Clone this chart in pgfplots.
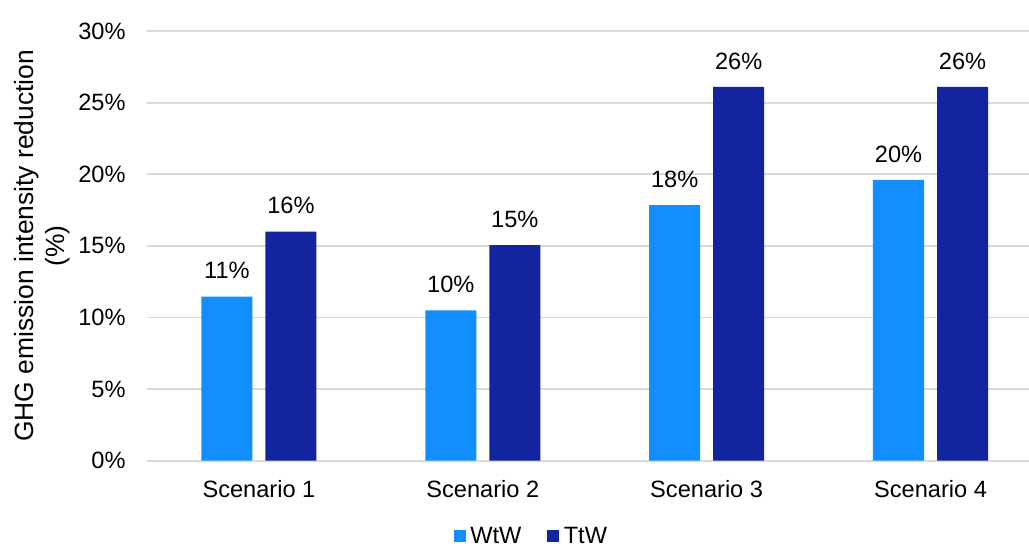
\documentclass[border=0pt]{standalone}
\usepackage{fontspec}
\setmainfont{Liberation Sans}
\usepackage{pgfplots}
\usepackage{pgfplotstable}
\pgfplotsset{compat=1.18}
\definecolor{wtw}{HTML}{138EFF}
\definecolor{ttw}{HTML}{12259F}
\definecolor{gridc}{HTML}{D9D9D9}

\pgfplotstableread{
x wtw wtwlab ttw ttwlab
0 11.45 11 16.0 16
1 10.5 10 15.05 15
2 17.85 18 26.1 26
3 19.6 20 26.1 26
}\data

\newcommand{\tfont}{\fontsize{11.8}{14}\selectfont}

\begin{document}
\begin{tikzpicture}
\begin{axis}[
  name=ax,
  scale only axis,
  width=441pt, height=214.85pt,
  xmin=-0.5, xmax=3.44,
  ymin=0, ymax=30,
  ybar,
  bar width=0.228,
  axis line style={draw=none},
  tick style={draw=none},
  major tick length=0pt,
  ymajorgrids,
  grid style={gridc, line width=0.9pt},
  xtick={0,1,2,3},
  xticklabels={Scenario 1,Scenario 2,Scenario 3,Scenario 4},
  ytick={0,5,10,15,20,25,30},
  yticklabel={\pgfmathprintnumber{\tick}\%},
  /pgf/number format/assume math mode=true,
  tick label style={font=\tfont},
  xticklabel style={anchor=base, yshift=-18.3pt, inner sep=0pt},
  yticklabel style={anchor=east, inner sep=0pt, xshift=-10.5pt},
  ylabel={GHG emission intensity reduction\\(\%)},
  ylabel style={at={([xshift=-38.5pt]rel axis cs:0,0.5)}, anchor=south, inner sep=0pt, align=center, font=\fontsize{13.2}{15.5}\selectfont},
  point meta=explicit symbolic,
  nodes near coords={\pgfplotspointmeta\%},
  every node near coord/.append style={anchor=base, yshift=8.9pt, inner sep=0pt, font=\tfont, text=black},
  legend columns=2,
  legend style={at={(rel axis cs:0.4348,-0.1775)}, anchor=center, draw=none, fill=none, inner sep=0pt, font=\tfont,
    nodes={inner sep=0pt},
    /tikz/every even column/.append style={column sep=13pt}},
]
\addplot[fill=wtw, draw=none, bar shift=-0.143,
  legend image code/.code={\fill[wtw] (0pt,-2.6pt) rectangle (5.85pt,3.25pt); \path (8.2pt,0pt);}]
  table[x=x, y=wtw, meta=wtwlab] {\data};
\addlegendentry{WtW}
\addplot[fill=ttw, draw=none, bar shift=0.143,
  legend image code/.code={\fill[ttw] (0pt,-2.6pt) rectangle (5.85pt,3.25pt); \path (8.2pt,0pt);}]
  table[x=x, y=ttw, meta=ttwlab] {\data};
\addlegendentry{TtW}
\end{axis}
\pgfresetboundingbox
\path (ax.south west) ++(-73.5pt,-44.15pt) rectangle ([yshift=15.5pt]ax.north east);
\end{tikzpicture}
\end{document}
